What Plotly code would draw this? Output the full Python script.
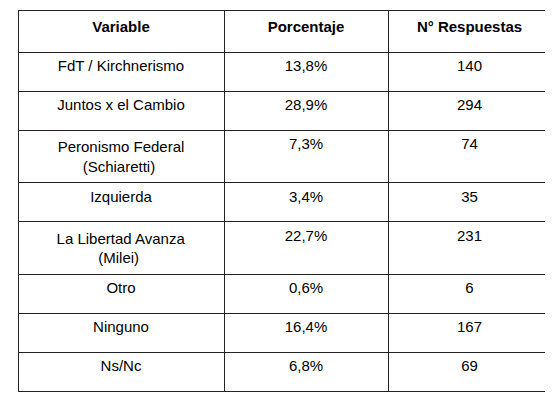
import plotly.graph_objects as go

NB = "\u00a0"
variables = ["FdT / Kirchnerismo", "Juntos x el Cambio",
             "Peronismo Federal<br>" + NB * 6 + "(Schiaretti)",
             "Izquierda",
             "La Libertad Avanza<br>" + NB * 10 + "(Milei)",
             "Otro", "Ninguno", "Ns/Nc"]
porcentajes = ["13,8%", "28,9%", "7,3%", "3,4%", "22,7%", "0,6%", "16,4%", "6,8%"]
respuestas = ["140", "294", "74", "35", "231", "6", "167", "69"]
headers = ["<b>Variable</b>", "<b>Porcentaje</b>", "<b>N° Respuestas</b>"]

fig = go.Figure(go.Table(
    columnwidth=[206, 164, 163],
    header=dict(values=headers, align="center", height=42,
                line=dict(color="#222222", width=1), fill_color="white",
                font=dict(family="Liberation Sans, Arial", size=15, color="black")),
    cells=dict(values=[variables, porcentajes, respuestas], align="center", height=39,
               line=dict(color="#222222", width=1), fill_color="white",
               font=dict(family="Liberation Sans, Arial", size=15, color="black")),
))
fig.update_layout(width=553, height=406, margin=dict(l=10, r=10, t=2, b=0),
                  paper_bgcolor="white")
fig.write_html("out.html")
